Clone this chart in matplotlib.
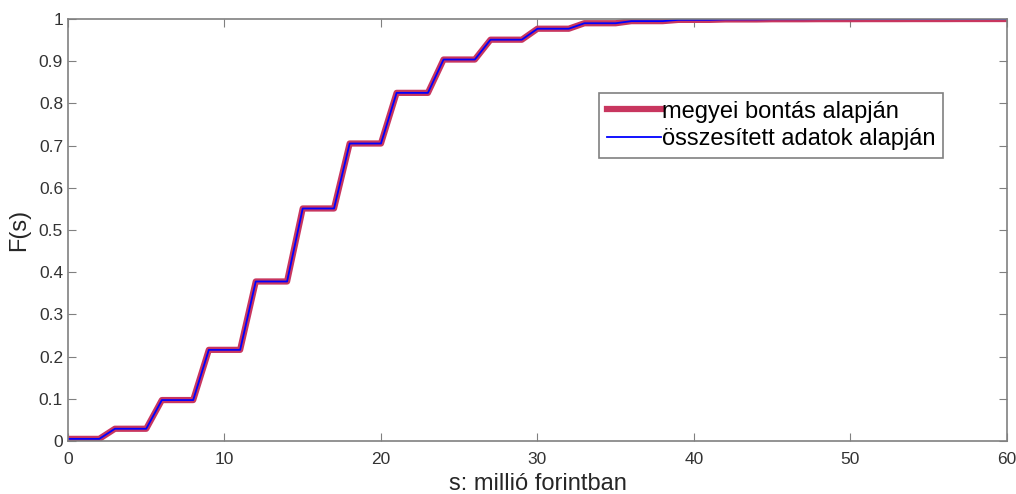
import numpy as np
import matplotlib
matplotlib.use('Agg')
import matplotlib.pyplot as plt

plt.rcParams['font.family'] = ['Liberation Sans', 'DejaVu Sans']

# eloszlasfuggveny szintjei, minden szint 3k..3k+2 kozott
level_start = [0, 3, 6, 9, 12, 15, 18, 21, 24, 27, 30, 33, 36, 39, 42, 45, 48, 51, 54, 57]
levels = [0.005, 0.029, 0.097, 0.216, 0.378, 0.551, 0.705, 0.825, 0.904, 0.951,
          0.977, 0.990, 0.995, 0.998, 0.999, 0.9995, 0.9997, 0.9998, 0.9999, 1.0]

s_vals = []
F_vals = []
for x0, lv in zip(level_start, levels):
    s_vals += [x0, min(x0 + 2, 60)]
    F_vals += [lv, lv]
s_vals[-1] = 60

fig = plt.figure(figsize=(10.16, 4.94), dpi=100)
ax = fig.add_axes([0.0669, 0.1073, 0.9242, 0.8542])

ax.plot(s_vals, F_vals, color='#c8365f', linewidth=4.5, label='megyei bontás alapján')
ax.plot(s_vals, F_vals, color='#0000ff', linewidth=1.3, label='összesített adatok alapján')

ax.set_xlim(0, 60)
ax.set_ylim(0, 1)
ax.set_xticks(np.arange(0, 61, 10))
ax.set_yticks(np.arange(0, 1.01, 0.1))
ax.set_yticklabels(['0', '0.1', '0.2', '0.3', '0.4', '0.5', '0.6', '0.7', '0.8', '0.9', '1'])
ax.tick_params(direction='in', length=6, colors='#808080', labelcolor='#333333', labelsize=12.5,
               top=True, right=True)
ax.tick_params(axis='x', pad=8)
for sp in ax.spines.values():
    sp.set_color('#808080')
    sp.set_linewidth(1.2)

ax.set_xlabel('s: millió forintban', fontsize=17, color='#262626', labelpad=4)
ax.set_ylabel('F(s)', fontsize=17, color='#262626', labelpad=6)

leg = ax.legend(loc='upper left', bbox_to_anchor=(0.5655, 0.8246), borderaxespad=0,
                fontsize=17, fancybox=False, framealpha=1, handlelength=2.3,
                handletextpad=0.05, borderpad=0.32, labelspacing=0.25)
leg.get_frame().set_edgecolor('#808080')
leg.get_frame().set_linewidth(1.2)

fig.savefig('out.png', dpi=100)
